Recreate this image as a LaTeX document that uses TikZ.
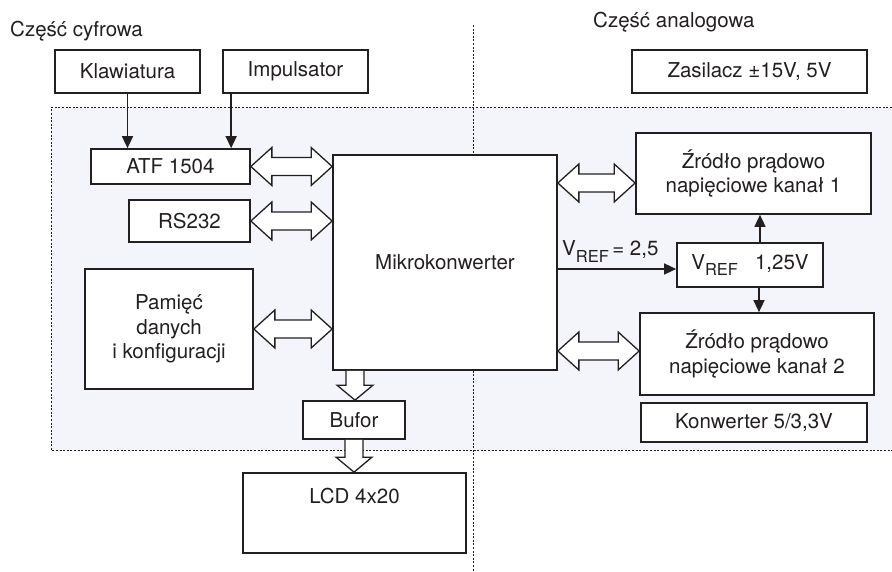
\documentclass[tikz,border=0pt]{standalone}
\usepackage{fontspec}
\setmainfont{TeX Gyre Heros}
\usetikzlibrary{arrows.meta,calc}
\definecolor{ink}{RGB}{35,31,32}
\definecolor{regfill}{RGB}{243,245,251}
\newcommand\lowtxt[1]{\raisebox{-6pt}{\fontsize{16.5}{16.5}\selectfont #1}}
\newcommand\hdbl[2]{\draw[bigarrow] let \p1=(#1), \p2=(#2) in
  (\x1,\y1) -- (\x1+21pt,\y1+19pt) -- (\x1+21pt,\y1+9pt) -- (\x2-21pt,\y1+9pt)
  -- (\x2-21pt,\y1+19pt) -- (\x2,\y1) -- (\x2-21pt,\y1-19pt) -- (\x2-21pt,\y1-9pt)
  -- (\x1+21pt,\y1-9pt) -- (\x1+21pt,\y1-19pt) -- cycle;}
\newcommand\vdwn[2]{\draw[bigarrow] let \p1=(#1), \p2=(#2) in
  (\x1-9pt,\y1) -- (\x1-9pt,\y2+15pt) -- (\x1-18pt,\y2+15pt) -- (\x1,\y2)
  -- (\x1+18pt,\y2+15pt) -- (\x1+9pt,\y2+15pt) -- (\x1+9pt,\y1);}
\begin{document}
\begin{tikzpicture}[x=1pt,y=-1pt,
  font=\fontsize{20.5}{24.5}\selectfont,
  box/.style={draw=ink, line width=1.7pt, fill=white, inner sep=0pt, text=ink, align=center},
  conn/.style={draw=ink, line width=1.5pt, -{Triangle[length=12pt,width=11pt]}},
  bigarrow/.style={draw=ink, line width=1.3pt, fill=white, line join=miter},
  dashln/.style={draw=ink, line width=1pt, dash pattern=on 2pt off 1.6pt},
  lbl/.style={anchor=base west, inner sep=0pt, text=ink}]
\useasboundingbox (0,0) rectangle (892,572);
% region
\fill[regfill] (51,108) rectangle (892,450);
\draw[dashln] (892,108) -- (51,108) -- (51,450) -- (892,450);
\draw[dashln] (473,25) -- (473,572);
% headers
\node[lbl] (hdig) at (10,37) {Część cyfrowa};
\node[lbl] (hana) at (593,28) {Część analogowa};
% boxes
\node[box, minimum width=145pt, minimum height=43pt] (klaw) at (127.5,71.5) {Klawiatura};
\node[box, minimum width=145pt, minimum height=43pt] (imp) at (295.5,71.5) {Impulsator};
\node[box, minimum width=235pt, minimum height=43pt] (zas) at (749.5,71.5) {Zasilacz ±15V, 5V};
\node[box, minimum width=159pt, minimum height=35pt] (atf) at (170.5,166.5) {ATF 1504};
\node[box, minimum width=121pt, minimum height=42pt] (rs) at (189.5,221) {RS232};
\node[box, minimum width=168pt, minimum height=120pt] (pam) at (169,329) {Pamięć\\danych\\i konfiguracji};
\node[box, minimum width=224pt, minimum height=215pt] (mk) at (445,262.5) {Mikrokonwerter};
\node[box, minimum width=102pt, minimum height=38pt] (buf) at (354,420) {Bufor};
\node[box, minimum width=223pt, minimum height=80pt,
  label={[anchor=center, yshift=-24pt, text=ink]north:LCD 4x20}] (lcd) at (354.5,513) {};
\node[box, minimum width=235pt, minimum height=81pt] (z1) at (753.5,173.5) {Źródło prądowo\\napięciowe kanał 1};
\node[box, minimum width=146pt, minimum height=44pt] (vref) at (750,265) {V\lowtxt{REF}\hspace{17pt}1,25V};
\node[box, minimum width=234pt, minimum height=82pt] (z2) at (757,354) {Źródło prądowo\\napięciowe kanał 2};
\node[box, minimum width=226pt, minimum height=39pt] (konw) at (754,422.5) {Konwerter 5/3,3V};
% thin connectors
\draw[conn] (klaw.south) -- (klaw.south |- atf.north);
\coordinate (impout) at ($(imp.south west)+(9,0)$);
\draw[conn] (impout) -- (impout |- atf.north);
\coordinate (vin) at ($(vref.west)+(0,4)$);
\draw[conn] (vin -| mk.east) -- (vin);
\node[lbl] (vlab) at (562,256) {V\lowtxt{REF}\,= 2,5};
\coordinate (vup) at ($(vref.north)+(10,0)$);
\draw[conn] (vup) -- (vup |- z1.south);
\coordinate (vdn) at ($(vref.south)+(9,0)$);
\draw[conn] (vdn) -- (vdn |- z2.north);
% bus arrows
\hdbl{atf.east}{atf.east -| mk.west}
\hdbl{rs.east}{rs.east -| mk.west}
\hdbl{pam.east}{pam.east -| mk.west}
\coordinate (z1in) at ($(z1.west)+(0,9.5)$);
\hdbl{z1in -| mk.east}{z1in}
\coordinate (z2in) at ($(z2.west)+(0,-3)$);
\hdbl{z2in -| mk.east}{z2in}
\coordinate (d1) at ($(mk.south)+(-90,0)$);
\vdwn{d1}{d1 |- buf.north}
\vdwn{buf.south}{buf.south |- lcd.north}
\end{tikzpicture}
\end{document}
